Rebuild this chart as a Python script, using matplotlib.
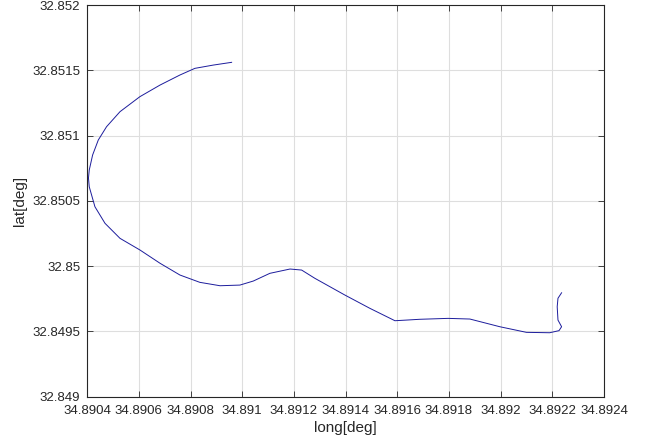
import matplotlib.pyplot as plt

plt.rcParams['font.family'] = ['Liberation Sans', 'DejaVu Sans']

# track (deg)
lon = [34.890959, 34.890888, 34.890817, 34.890759, 34.890682, 34.890604,
       34.890527, 34.890475, 34.890443, 34.890421, 34.890408, 34.890405,
       34.890408, 34.890430, 34.890469, 34.890527, 34.890604, 34.890682,
       34.890759, 34.890836, 34.890914, 34.890991, 34.891043, 34.891107,
       34.891185, 34.891230, 34.891281, 34.891397, 34.891494, 34.891591,
       34.891636, 34.891687, 34.891797, 34.891881, 34.891997, 34.892100,
       34.892190, 34.892226, 34.892236, 34.892222, 34.892219, 34.892222,
       34.892236]
lat = [32.851561, 32.851540, 32.851515, 32.851464, 32.851387, 32.851298,
       32.851183, 32.851068, 32.850966, 32.850851, 32.850736, 32.850675,
       32.850608, 32.850455, 32.850328, 32.850213, 32.850124, 32.850022,
       32.849932, 32.849876, 32.849850, 32.849855, 32.849886, 32.849945,
       32.849978, 32.849970, 32.849907, 32.849779, 32.849677, 32.849582,
       32.849587, 32.849593, 32.849600, 32.849595, 32.849536, 32.849493,
       32.849490, 32.849506, 32.849536, 32.849587, 32.849689, 32.849754,
       32.849796]

xticks = [34.8904, 34.8906, 34.8908, 34.8910, 34.8912, 34.8914,
          34.8916, 34.8918, 34.8920, 34.8922, 34.8924]
xlabels = ['34.8904', '34.8906', '34.8908', '34.891', '34.8912', '34.8914',
           '34.8916', '34.8918', '34.892', '34.8922', '34.8924']
yticks = [32.849, 32.8495, 32.850, 32.8505, 32.851, 32.8515, 32.852]
ylabels = ['32.849', '32.8495', '32.85', '32.8505', '32.851', '32.8515', '32.852']

fig = plt.figure(figsize=(6.67, 4.44), dpi=100)
ax = fig.add_axes([0.1307, 0.1065, 0.7748, 0.8822])
ax.plot(lon, lat, color='#1c1c9c', lw=0.7, solid_joinstyle='round')

ax.set_xlim(34.8904, 34.8924)
ax.set_ylim(32.849, 32.852)
ax.set_xticks(xticks)
ax.set_xticklabels(xlabels)
ax.set_yticks(yticks)
ax.set_yticklabels(ylabels)
ax.grid(True, color='#dedede', lw=0.8)
ax.set_axisbelow(True)
ax.tick_params(direction='in', top=True, right=True, labelsize=9.5,
               colors='#262626', length=4, width=0.6)
ax.tick_params(axis='x', pad=6)
ax.tick_params(axis='y', pad=5)
for s in ax.spines.values():
    s.set_color('#262626')
    s.set_linewidth(0.8)

ax.set_xlabel('long[deg]', fontsize=11, color='#262626', labelpad=3)
ax.set_ylabel('lat[deg]', fontsize=11, color='#262626', labelpad=4)

fig.savefig('out.png', dpi=100)
